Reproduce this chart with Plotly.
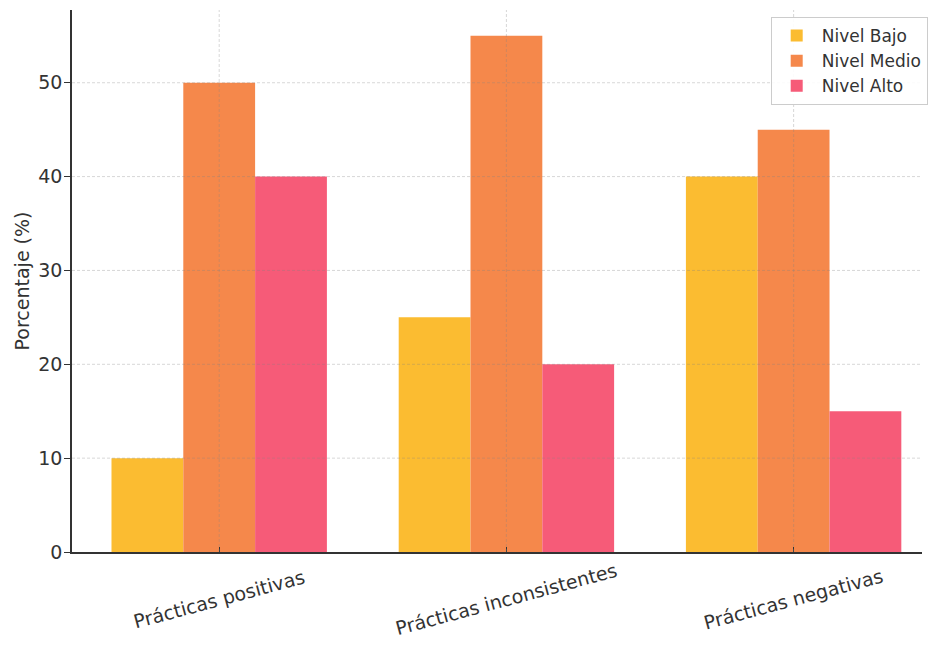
import plotly.graph_objects as go

categories = ["Prácticas positivas", "Prácticas inconsistentes", "Prácticas negativas"]
series_names = ["Nivel Bajo", "Nivel Medio", "Nivel Alto"]
nivel_bajo = [10, 25, 40]
nivel_medio = [50, 55, 45]
nivel_alto = [40, 20, 15]
y_ticks = [0, 10, 20, 30, 40, 50]
y_label = "Porcentaje (%)"

colors = ["#FBBC31", "#F5884B", "#F65B78"]
font_family = "DejaVu Sans, Verdana, sans-serif"
text_color = "#333333"

fig = go.Figure()
for name, vals, col in zip(series_names, [nivel_bajo, nivel_medio, nivel_alto], colors):
    fig.add_trace(go.Bar(x=categories, y=vals, name=name,
                         marker=dict(color=col, line=dict(width=0))))

# grid lines drawn above bars (like the reference)
grid_style = dict(color="rgba(130,130,130,0.32)", width=1, dash="3px,2px")
for t in y_ticks[1:]:
    fig.add_shape(type="line", xref="paper", x0=0, x1=1, yref="y", y0=t, y1=t,
                  line=grid_style, layer="above")
for c in categories:
    fig.add_shape(type="line", xref="x", x0=c, x1=c, yref="paper", y0=0, y1=1,
                  line=grid_style, layer="above")

# rotated category labels centred under each group
for c in categories:
    fig.add_annotation(x=c, xref="x", y=0, yref="paper", yshift=-47,
                       text=c, showarrow=False, textangle=-15,
                       xanchor="center", yanchor="middle",
                       font=dict(family=font_family, size=19, color=text_color))

fig.update_layout(
    width=928, height=656,
    margin=dict(l=72, r=0, t=10, b=104),
    paper_bgcolor="white", plot_bgcolor="white",
    barmode="group", bargap=0.25, bargroupgap=0,
    font=dict(family=font_family, size=19, color=text_color),
    legend=dict(x=0.822, y=0.987, xanchor="left", yanchor="top",
                bgcolor="rgba(255,255,255,0.9)", bordercolor="#cccccc", borderwidth=1,
                font=dict(size=17, color=text_color), itemwidth=40,
                tracegroupgap=0),
    showlegend=True,
)
fig.update_xaxes(type="category", range=[-0.5125, 2.447], showgrid=False,
                 showticklabels=False, ticks="inside", ticklen=5, tickcolor=text_color,
                 showline=True, linecolor=text_color, linewidth=1.5, zeroline=False)
fig.update_yaxes(range=[0, 57.75], tickvals=y_ticks, showgrid=False,
                 ticks="outside", ticklen=6, tickcolor=text_color,
                 showline=True, linecolor=text_color, linewidth=1.5, zeroline=False,
                 ticklabelstandoff=-2,
                 title=dict(text=y_label, standoff=4, font=dict(size=19)),
                 tickfont=dict(size=19))

fig.write_html("out.html")
